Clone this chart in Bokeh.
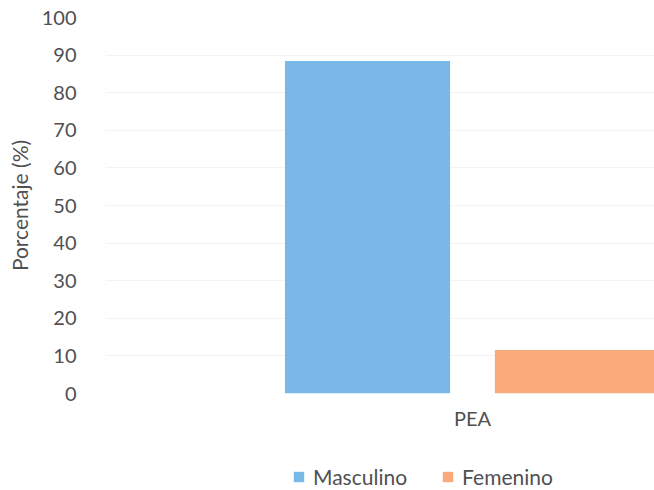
from bokeh.plotting import figure
from bokeh.models import ColumnDataSource, Range1d, FixedTicker, Legend, LegendItem
from bokeh.layouts import column
from bokeh.transform import dodge
from bokeh.embed import file_html
from bokeh.resources import INLINE

categories = ["PEA"]
series = ["Masculino", "Femenino"]
masculino = [88.4]
femenino = [11.6]
y_ticks = [0, 10, 20, 30, 40, 50, 60, 70, 80, 90, 100]

colors = {"Masculino": "#7ab9e7", "Femenino": "#f8aa7b"}
text_color = "#505050"
font = "Lato"

source = ColumnDataSource(data=dict(
    x=list(range(len(categories))),
    Masculino=masculino,
    Femenino=femenino,
))

p = figure(width=654, height=440, output_backend="svg", toolbar_location=None,
           x_range=Range1d(-0.5, 0.248), y_range=Range1d(0, 100),
           min_border_left=105, min_border_right=0, min_border_top=17,
           min_border_bottom=47)
p.outline_line_color = None
p.background_fill_color = "white"
p.border_fill_color = "white"

offsets = {"Masculino": -0.143, "Femenino": 0.143}
for s in series:
    p.vbar(x=dodge("x", offsets[s], range=p.x_range), top=s,
           width=0.225, source=source, fill_color=colors[s], line_color=None)

# axes
p.xaxis.ticker = FixedTicker(ticks=list(range(len(categories))))
p.xaxis.major_label_overrides = {i: c for i, c in enumerate(categories)}
p.yaxis.ticker = FixedTicker(ticks=y_ticks)
for ax in (p.xaxis, p.yaxis):
    ax.axis_line_color = None
    ax.major_tick_line_color = None
    ax.minor_tick_line_color = None
    ax.major_label_text_font = font
    ax.major_label_text_font_size = "20px"
    ax.major_label_text_color = text_color
p.xaxis.major_label_standoff = 6
p.yaxis.major_label_standoff = 23
p.yaxis.axis_label = "Porcentaje (%)"
p.yaxis.axis_label_text_font = font
p.yaxis.axis_label_text_font_size = "21px"
p.yaxis.axis_label_text_font_style = "normal"
p.yaxis.axis_label_text_color = text_color
p.yaxis.axis_label_standoff = 7

p.xgrid.grid_line_color = None
p.ygrid.grid_line_color = "#f3f3f3"

# legend strip (separate figure so the legend can sit below the axis);
# its frame is aligned with the main frame by the column layout
p2 = figure(width=654, height=50, output_backend="svg", toolbar_location=None,
            x_range=Range1d(0, 1), y_range=Range1d(0, 1),
            x_axis_location=None, y_axis_location=None,
            min_border_left=0, min_border_right=0, min_border_top=0,
            min_border_bottom=0)
p2.outline_line_color = None
p2.grid.visible = False
legend_renderers = {}
for s in series:
    r = p2.vbar(x=dodge("x", offsets[s]), top=s, width=0.225, source=source,
                fill_color=colors[s], line_color=None)
    r.visible = False
    legend_renderers[s] = r

legend = Legend(items=[LegendItem(label=s, renderers=[legend_renderers[s]]) for s in series],
                orientation="horizontal", location=(187, 1),
                glyph_width=13, glyph_height=13, label_standoff=8, spacing=34,
                padding=0, margin=0, border_line_color=None,
                background_fill_alpha=0,
                label_text_font=font, label_text_font_size="21px",
                label_text_color=text_color)
p2.add_layout(legend, "center")

layout = column(p, p2, spacing=0)
open("out.html", "w").write(file_html(layout, INLINE))
